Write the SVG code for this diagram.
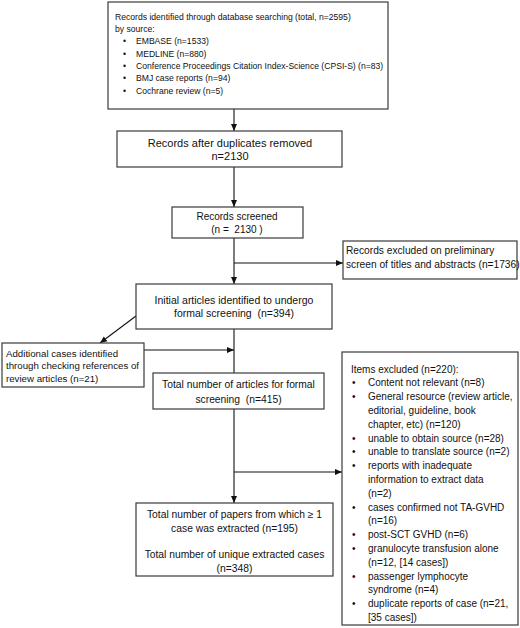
<svg xmlns="http://www.w3.org/2000/svg" width="520" height="628" viewBox="0 0 520 628">
<style>
.box{fill:#fff;stroke:#3a3a3a;stroke-width:1.2}
text{font-family:"Liberation Sans",Arial,sans-serif;fill:#111}
.c{text-anchor:middle}
.ln{stroke:#111;stroke-width:1.1;fill:none}
</style>
<defs>
<marker id="ah" markerWidth="8" markerHeight="8" refX="7" refY="4" orient="auto" markerUnits="userSpaceOnUse">
<path d="M0,1 L7,4 L0,7 Z" fill="#111"/>
</marker>
</defs>
<rect width="520" height="628" fill="#fff"/>
<g id="connectors">
<line class="ln" x1="234" y1="109" x2="234" y2="131" marker-end="url(#ah)"/>
<line class="ln" x1="234" y1="167" x2="234" y2="207" marker-end="url(#ah)"/>
<line class="ln" x1="234" y1="238" x2="234" y2="284" marker-end="url(#ah)"/>
<line class="ln" x1="234" y1="263" x2="343" y2="263" marker-end="url(#ah)"/>
<line class="ln" x1="136" y1="316" x2="100" y2="343" marker-end="url(#ah)"/>
<line class="ln" x1="144" y1="350" x2="234" y2="350" marker-end="url(#ah)"/>
<line class="ln" x1="234" y1="329" x2="234" y2="373"/>
<line class="ln" x1="234" y1="409" x2="234" y2="503" marker-end="url(#ah)"/>
<line class="ln" x1="234" y1="472" x2="342" y2="472" marker-end="url(#ah)"/>
</g>
<g id="n1">
<rect class="box" x="108" y="2" width="280" height="107"/>
<g font-size="8.6">
<text x="115" y="20">Records identified through database searching (total, n=2595)</text>
<text x="115" y="32">by source:</text>
<text x="123" y="44">•</text><text x="136" y="44">EMBASE (n=1533)</text>
<text x="123" y="57">•</text><text x="136" y="57">MEDLINE (n=880)</text>
<text x="123" y="69">•</text><text x="136" y="69">Conference Proceedings Citation Index-Science (CPSI-S) (n=83)</text>
<text x="123" y="81">•</text><text x="136" y="81">BMJ case reports (n=94)</text>
<text x="123" y="94">•</text><text x="136" y="94">Cochrane review (n=5)</text>
</g>
</g>
<g id="n2">
<rect class="box" x="117" y="131" width="225" height="36"/>
<text class="c" x="230" y="147" font-size="11">Records after duplicates removed</text>
<text class="c" x="230" y="160" font-size="11">n=2130</text>
</g>
<g id="n3">
<rect class="box" x="172" y="207" width="131" height="31"/>
<text class="c" x="237" y="220" font-size="10">Records screened</text>
<text class="c" x="237" y="233" font-size="10">(n =&#160; 2130 )</text>
</g>
<g id="n4">
<rect class="box" x="343" y="241" width="174" height="38"/>
<text x="346" y="254" font-size="10.2">Records excluded on preliminary</text>
<text x="346" y="268" font-size="10.2">screen of titles and abstracts (n=1736)</text>
</g>
<g id="n5">
<rect class="box" x="136" y="284" width="196" height="45"/>
<text class="c" x="234" y="303.5" font-size="10.5">Initial articles identified to undergo</text>
<text class="c" x="234" y="316.5" font-size="10.5">formal screening&#160; (n=394)</text>
</g>
<g id="n6">
<rect class="box" x="2" y="343" width="142" height="44"/>
<text x="6" y="356.5" font-size="9.7">Additional cases identified</text>
<text x="6" y="369" font-size="9.7">through checking references of</text>
<text x="6" y="381.5" font-size="9.7">review articles (n=21)</text>
</g>
<g id="n7">
<rect class="box" x="153" y="373" width="171" height="36"/>
<text class="c" x="238.5" y="388" font-size="10.3">Total number of articles for formal</text>
<text class="c" x="238.5" y="402.5" font-size="10.3">screening&#160; (n=415)</text>
</g>
<g id="n8">
<rect class="box" x="342" y="352" width="176" height="273"/>
<g font-size="10">
<text x="351" y="372.5">Items excluded (n=220):</text>
<text x="352" y="386.3">•</text><text x="368" y="386.3">Content not relevant (n=8)</text>
<text x="352" y="400.1">•</text><text x="368" y="400.1">General resource (review article,</text>
<text x="368" y="413.9">editorial, guideline, book</text>
<text x="368" y="427.7">chapter, etc) (n=120)</text>
<text x="352" y="441.5">•</text><text x="368" y="441.5">unable to obtain source (n=28)</text>
<text x="352" y="455.3">•</text><text x="368" y="455.3">unable to translate source (n=2)</text>
<text x="352" y="469.1">•</text><text x="368" y="469.1">reports with inadequate</text>
<text x="368" y="482.9">information to extract data</text>
<text x="368" y="496.7">(n=2)</text>
<text x="352" y="510.5">•</text><text x="368" y="510.5">cases confirmed not TA-GVHD</text>
<text x="368" y="524.3">(n=16)</text>
<text x="352" y="538.1">•</text><text x="368" y="538.1">post-SCT GVHD (n=6)</text>
<text x="352" y="551.9">•</text><text x="368" y="551.9">granulocyte transfusion alone</text>
<text x="368" y="565.7">(n=12, [14 cases])</text>
<text x="352" y="579.5">•</text><text x="368" y="579.5">passenger lymphocyte</text>
<text x="368" y="593.3">syndrome (n=4)</text>
<text x="352" y="607.1">•</text><text x="368" y="607.1">duplicate reports of case (n=21,</text>
<text x="368" y="620.9">[35 cases])</text>
</g>
</g>
<g id="n9">
<rect class="box" x="136" y="503" width="197" height="73"/>
<g font-size="10.3">
<text class="c" x="234.5" y="518">Total number of papers from which ≥ 1</text>
<text class="c" x="234.5" y="532">case was extracted (n=195)</text>
<text class="c" x="234.5" y="558">Total number of unique extracted cases</text>
<text class="c" x="234.5" y="572">(n=348)</text>
</g>
</g>
</svg>
